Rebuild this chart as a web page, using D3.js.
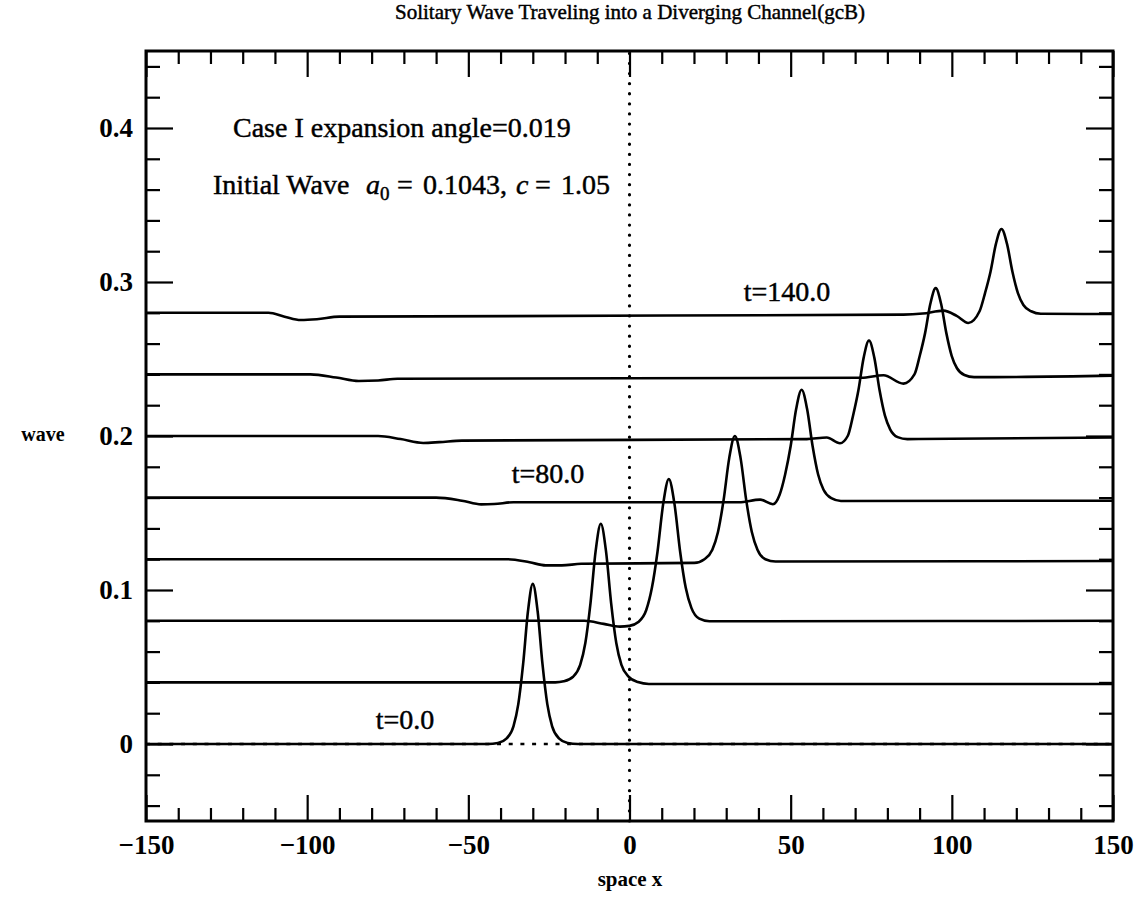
<!DOCTYPE html>
<html>
<head>
<meta charset="utf-8">
<script src="https://cdn.jsdelivr.net/npm/d3@7"></script>
<style>
  body { margin: 0; background: #fff; }
  svg { display: block; }
</style>
</head>
<body>
<div id="chart"></div>
<script>
// snapshots of the wave, [x, elevation].
// each snapshot is drawn lifted by its offset
const times = [0, 20, 40, 60, 80, 100, 120, 140]
const offsets = [0, 0.04, 0.08, 0.12, 0.16, 0.2, 0.24, 0.28]

const wave_t0 = [[-150, 0], [-44, 0], [-40.8, 0.0007], [-38.1, 0.0037], [-36, 0.0115], [-34.5, 0.0259],
  [-33, 0.052], [-31.5, 0.0862], [-30, 0.104], [-28.5, 0.0862], [-27, 0.052], [-25.5, 0.0259],
  [-24, 0.0115], [-21.9, 0.0037], [-19.2, 0.0007], [-16, 0], [150, 0]]

const wave_t20 = [[-150, 0], [-23, 0], [-20.4, 0.0007], [-17.5, 0.0037], [-15.3, 0.0114], [-13.7, 0.0256],
  [-12.1, 0.0515], [-10.5, 0.0854], [-8.9, 0.103], [-7.3, 0.0854], [-5.7, 0.0515], [-4.1, 0.0256],
  [-2.5, 0.0114], [-0.3, 0.0037], [2.6, 0.0002], [6, -0.001], [150, -0.001]]

const wave_t40 = [[-150, 0], [-14, 0], [-8, -0.002], [-3, -0.0038], [0, -0.0033], [2.75, -0.0008],
  [5.2, 0.007], [6.95, 0.0214], [8.7, 0.045], [10.45, 0.0759], [12.2, 0.092], [13.95, 0.0759],
  [15.7, 0.045], [17.45, 0.0214], [19.2, 0.0084], [21.65, 0.0014], [24.8, -0.0003], [150, 0]]

const wave_t60 = [[-150, 0], [-38, 0], [-31, -0.002], [-26, -0.004], [-21, -0.004], [-15, -0.003],
  [20.1, -0.0024], [23.25, 0], [25.7, 0.0062], [27.45, 0.0177], [29.2, 0.0385], [30.95, 0.0658],
  [32.7, 0.08], [34.45, 0.0658], [36.2, 0.0385], [37.95, 0.0177], [39.7, 0.0062], [42.15, 0],
  [45.3, -0.0015], [150, -0.0012]]

const wave_t80 = [[-150, 0], [-60, 0], [-52, -0.002], [-46, -0.0044], [-42, -0.0042], [-36, -0.003],
  [34, -0.003], [40.5, -0.0013], [44.5, -0.0043], [46.6, 0.002], [48.3, 0.0152], [50, 0.0335],
  [51.7, 0.0575], [53.4, 0.07], [55.1, 0.0575], [56.8, 0.0335], [58.5, 0.0152], [60.2, 0.0051],
  [62.6, -0.0004], [65.6, -0.0022], [150, -0.002]]

const wave_t100 = [[-150, 0], [-78, 0], [-71, -0.002], [-64, -0.0045], [-59, -0.004], [-52, -0.003],
  [55, -0.002], [61.2, -0.001], [65.3, -0.0047], [67.7, 0], [69.35, 0.0132], [71, 0.0295],
  [72.65, 0.0509], [74.3, 0.062], [75.95, 0.0509], [77.6, 0.0295], [79.25, 0.0132], [80.9, 0.0042],
  [83.2, -0.0007], [86.2, -0.002], [150, -0.001]]

const wave_t120 = [[-150, 0], [-99, 0], [-91, -0.002], [-84, -0.0043], [-78, -0.004], [-72, -0.0028],
  [72, -0.0022], [78.8, -0.0006], [85, -0.006], [88.4, 0], [90.05, 0.0121], [91.7, 0.0268],
  [93.35, 0.046], [95, 0.056], [96.65, 0.046], [98.3, 0.0268], [99.95, 0.0121], [101.6, 0.004],
  [103.9, -0.0004], [106.9, -0.0018], [150, -0.0008]]

const wave_t140 = [[-150, 0], [-112, 0], [-107, -0.0025], [-102, -0.0047], [-97, -0.0042], [-90, -0.0025],
  [85, -0.0012], [91, -0.0005], [97.4, 0.0014], [101.5, -0.002], [105.1, -0.0066], [108.6, 0.001],
  [110.3, 0.0128], [112, 0.0267], [113.7, 0.0449], [115.4, 0.0544], [117.1, 0.0449], [118.8, 0.0267],
  [120.5, 0.0128], [122.2, 0.0051], [124.6, 0.001], [127.6, -0.0006], [150, -0.0008]]

const waves = [wave_t0, wave_t20, wave_t40, wave_t60, wave_t80, wave_t100, wave_t120, wave_t140]

const xMajor = [-150, -100, -50, 0, 50, 100, 150]
const yMajor = [0, 0.1, 0.2, 0.3, 0.4]

const W = 1146, H = 909
var margin = {top: 51, right: 33, bottom: 88, left: 146},
  width = W - margin.left - margin.right,
  height = H - margin.top - margin.bottom

const serif = "'Liberation Serif', 'Times New Roman', serif"

var svg = d3.select("#chart").append("svg")
  .attr("width", W)
  .attr("height", H)

var g = svg.append("g")
  .attr("transform", "translate(" + margin.left + "," + margin.top + ")")

var x = d3.scaleLinear().domain([-150, 150]).range([0, width])
var y = d3.scaleLinear().domain([-0.05, 0.45]).range([height, 0])

// minor ticks every 10 in x and every 0.02 in y
var xMinor = d3.range(-140, 150, 10).filter(d => d % 50 !== 0)
var yMinor = d3.range(-2, 23).filter(i => i % 5 !== 0).map(i => i * 0.02)

var fmt = d3.format("~g")

function styleAxis(sel) {
  sel.select(".domain").remove()
  sel.selectAll("line").attr("stroke", "#000").attr("stroke-width", 2.2)
  sel.selectAll("text")
    .attr("fill", "#000")
    .style("font-family", serif)
    .style("font-weight", "bold")
    .style("font-size", "27px")
}

// bottom
g.append("g").attr("transform", "translate(0," + height + ")")
  .call(d3.axisBottom(x).tickValues(xMajor).tickSize(-26).tickPadding(14).tickFormat(fmt))
  .call(styleAxis)
g.append("g").attr("transform", "translate(0," + height + ")")
  .call(d3.axisBottom(x).tickValues(xMinor).tickSize(-13).tickFormat(""))
  .call(styleAxis)
// top
g.append("g")
  .call(d3.axisTop(x).tickValues(xMajor).tickSize(-26).tickFormat(""))
  .call(styleAxis)
g.append("g")
  .call(d3.axisTop(x).tickValues(xMinor).tickSize(-13).tickFormat(""))
  .call(styleAxis)
// left
g.append("g")
  .call(d3.axisLeft(y).tickValues(yMajor).tickSize(-27).tickPadding(13).tickFormat(fmt))
  .call(styleAxis)
g.append("g")
  .call(d3.axisLeft(y).tickValues(yMinor).tickSize(-14).tickFormat(""))
  .call(styleAxis)
// right
g.append("g").attr("transform", "translate(" + width + ",0)")
  .call(d3.axisRight(y).tickValues(yMajor).tickSize(-27).tickFormat(""))
  .call(styleAxis)
g.append("g").attr("transform", "translate(" + width + ",0)")
  .call(d3.axisRight(y).tickValues(yMinor).tickSize(-14).tickFormat(""))
  .call(styleAxis)

// frame
g.append("rect")
  .attr("width", width)
  .attr("height", height)
  .attr("fill", "none")
  .attr("stroke", "#000")
  .attr("stroke-width", 3)

// dotted guides: channel entrance at x=0 and the still water level
g.append("line")
  .attr("x1", x(0)).attr("x2", x(0))
  .attr("y1", y(-0.05)).attr("y2", y(0.45))
  .attr("stroke", "#000")
  .attr("stroke-width", 3.2)
  .attr("stroke-linecap", "round")
  .attr("stroke-dasharray", "0.1,10")
g.append("line")
  .attr("x1", x(-150)).attr("x2", x(150))
  .attr("y1", y(0)).attr("y2", y(0))
  .attr("stroke", "#000")
  .attr("stroke-width", 2.6)
  .attr("stroke-dasharray", "4,7.7")

// the wave snapshots
waves.forEach(function(pts, i) {
  var off = offsets[i]
  var line = d3.line()
    .x(d => x(d[0]))
    .y(d => y(d[1] + off))
    .curve(d3.curveMonotoneX)
  g.append("path")
    .datum(pts)
    .attr("d", line)
    .attr("fill", "none")
    .attr("stroke", "#000")
    .attr("stroke-width", 2.6)
})

// text
function addText(parent, px, py, str, size, anchor, bold) {
  return parent.append("text")
    .attr("x", px).attr("y", py)
    .attr("text-anchor", anchor)
    .style("font-family", serif)
    .style("font-size", size + "px")
    .style("font-weight", bold ? "bold" : "normal")
    .attr("fill", "#000")
    .attr("stroke", "#000")
    .attr("stroke-width", bold ? 0 : 0.45)
    .text(str)
}

addText(svg, 630, 19, "Solitary Wave Traveling into a Diverging Channel(gcB)", 21, "middle", false)
addText(svg, 43, 441, "wave", 20, "middle", true)
addText(svg, 630, 886, "space x", 21, "middle", true)

addText(svg, 233, 137, "Case I expansion angle=0.019", 28, "start", false)

var init = addText(svg, 213, 194, "Initial Wave", 28, "start", false)
init.append("tspan").attr("x", 366).style("font-style", "italic").text("a")
init.append("tspan").attr("dy", 6).style("font-size", "19px").text("0")
init.append("tspan").attr("x", 397).attr("dy", -6).text("=")
init.append("tspan").attr("x", 423).text("0.1043,")
init.append("tspan").attr("x", 516).style("font-style", "italic").text("c")
init.append("tspan").attr("x", 535).text("=")
init.append("tspan").attr("x", 561).text("1.05")

addText(svg, 405, 729, "t=" + times[0].toFixed(1), 28, "middle", false)
addText(svg, 548, 483, "t=" + times[4].toFixed(1), 28, "middle", false)
addText(svg, 787, 301, "t=" + times[7].toFixed(1), 28, "middle", false)
</script>
</body>
</html>
